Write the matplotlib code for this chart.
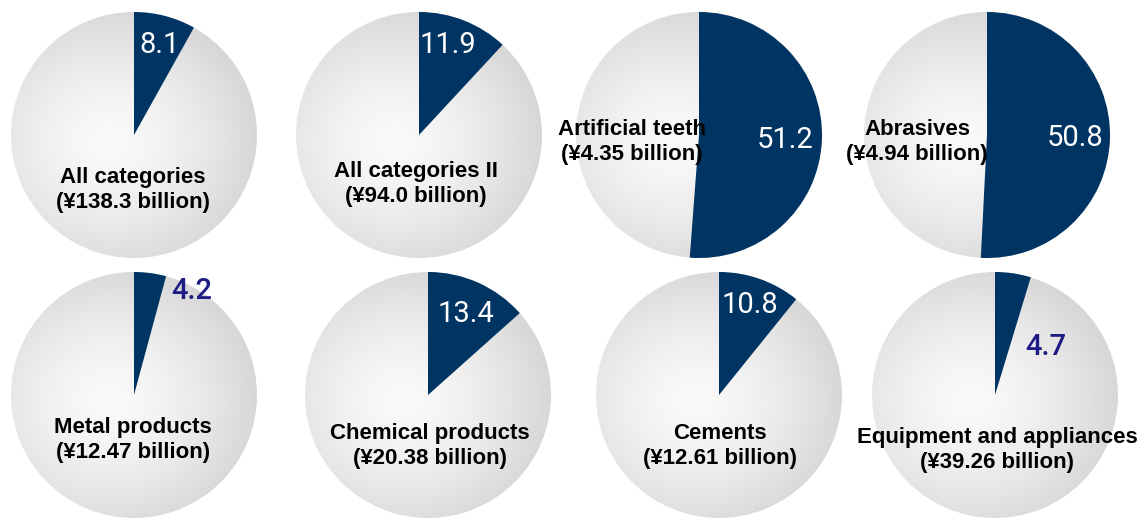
import numpy as np
import matplotlib
matplotlib.use("Agg")
import matplotlib.pyplot as plt
from matplotlib.patches import Circle

# share (%) of each category, drawn as the dark slice of each pie
categories = ["All categories", "All categories II", "Artificial teeth", "Abrasives",
              "Metal products", "Chemical products", "Cements", "Equipment and appliances"]
totals = ["¥138.3 billion", "¥94.0 billion", "¥4.35 billion", "¥4.94 billion",
          "¥12.47 billion", "¥20.38 billion", "¥12.61 billion", "¥39.26 billion"]
shares = [8.1, 11.9, 51.2, 50.8, 4.2, 13.4, 10.8, 4.7]

# layout (canvas is 1148 x 520 px, y measured from the top)
W, H = 1148, 520
R = 123
centers = [(134, 135), (419, 135), (699, 135), (987, 135),
           (134, 395), (428, 395), (719, 395), (995, 395)]
# value label: (angle from 12 o'clock clockwise, distance as fraction of radius)
value_pos = [(16, 0.76), (18, 0.77), (93, 0.70), (92, 0.72),
             (29, 0.97), (25, 0.73), (19, 0.77), (47, 0.57)]
# category label offset from the pie centre (px)
name_off = [(-1, 55), (-3, 49), (-67, 7), (-70, 7),
            (-1, 45), (2, 51), (1, 51), (2, 55)]

NAVY = "#003462"
OUTSIDE = "#1c1c84"

fig = plt.figure(figsize=(W / 100, H / 100), dpi=100)
ax = fig.add_axes([0, 0, 1, 1])

# radial grey shading, brightest slightly left of centre
n = 300
gx, gy = np.meshgrid(np.linspace(-1, 1, n), np.linspace(-1, 1, n))
t = np.sqrt(((gx + 0.2) / 1.2) ** 2 + ((gy - 0.05) / 1.1) ** 2)
t = np.clip(t, 0, 1) ** 1.5
light, dark = 0.98, 0.845
shade = light + (dark - light) * t
rgb = np.dstack([shade, shade, shade])

for i, (cx, cy_px) in enumerate(centers):
    cy = H - cy_px
    circ = Circle((cx, cy), R, transform=ax.transData, facecolor="none", edgecolor="none")
    ax.add_patch(circ)
    im = ax.imshow(rgb, extent=(cx - R, cx + R, cy - R, cy + R), origin="upper",
                   zorder=0, interpolation="bilinear")
    im.set_clip_path(circ)

    v = shares[i]
    ax.pie([v, 100 - v], colors=[NAVY, "none"], startangle=90, counterclock=False,
           center=(cx, cy), radius=R, frame=True,
           wedgeprops=dict(linewidth=0, antialiased=True))

    ang, frac = value_pos[i]
    a = np.deg2rad(ang)
    tx = cx + frac * R * np.sin(a)
    ty = cy + frac * R * np.cos(a)
    outside = v < 5
    ax.text(tx, ty, f"{v:.1f}", color=OUTSIDE if outside else "white", fontsize=21,
            family="Roboto", fontweight="medium" if outside else "normal",
            ha="center", va="center", zorder=5)

    dx, dy = name_off[i]
    ax.text(cx + dx, cy - dy, f"{categories[i]}\n({totals[i]})", color="black",
            fontsize=16, family="Liberation Sans", fontweight="bold",
            ha="center", va="center", linespacing=1.3, zorder=5)

ax.set_xlim(0, W)
ax.set_ylim(0, H)
ax.set_aspect("equal")
ax.axis("off")

fig.savefig("out.png", dpi=100, facecolor="white")
